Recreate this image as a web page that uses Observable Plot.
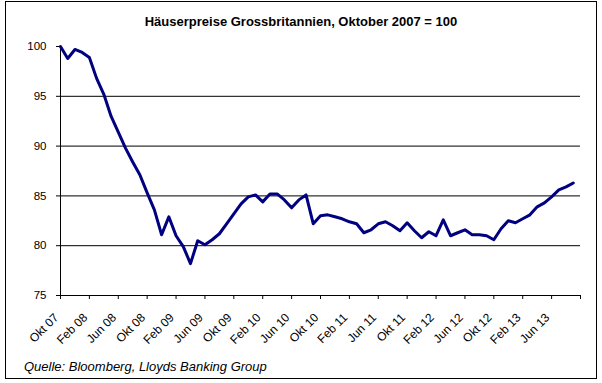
<!DOCTYPE html>
<html>
<head>
<meta charset="utf-8">
<script src="https://cdn.jsdelivr.net/npm/d3@7"></script>
<script src="https://cdn.jsdelivr.net/npm/@observablehq/plot@0.6"></script>
<style>
  body { margin: 0; background: #fff; }
  #wrap { position: relative; width: 602px; height: 383px; font-family: "Liberation Sans", Arial, sans-serif; color: #000; }
  #chart { position: absolute; left: 0; top: 0; }
  #frame { position: absolute; left: 5px; top: 1px; width: 590px; height: 376px; border: 1px solid #000; pointer-events: none; }
  #title { position: absolute; left: 0; width: 602px; top: 14px; text-align: center; font-weight: bold; font-size: 13px; }
  #caption { position: absolute; left: 24px; top: 359px; font-style: italic; font-size: 13px; }
</style>
</head>
<body>
<div id="wrap">
  <div id="chart"></div>
  <div id="title">Häuserpreise Grossbritannien, Oktober 2007 = 100</div>
  <div id="caption">Quelle: Bloomberg, Lloyds Banking Group</div>
  <div id="frame"></div>
</div>
<script>
// Monthly index values, Okt 07 ... Sep 13 (Oktober 2007 = 100)
const values = [
  100.0, 98.8, 99.7, 99.4, 98.9, 96.8, 95.2, 93.0, 91.4, 89.8, 88.4, 87.1,
  85.3, 83.6, 81.1, 82.9, 81.0, 79.9, 78.2, 80.5, 80.1, 80.6, 81.2, 82.2,
  83.2, 84.2, 84.9, 85.1, 84.4, 85.2, 85.2, 84.6, 83.8, 84.6, 85.1, 82.2,
  83.0, 83.1, 82.9, 82.7, 82.4, 82.2, 81.3, 81.6, 82.2, 82.4, 82.0, 81.5,
  82.3, 81.5, 80.8, 81.4, 81.0, 82.6, 81.0, 81.3, 81.6, 81.1, 81.1, 81.0,
  80.6, 81.7, 82.5, 82.3, 82.7, 83.1, 83.9, 84.3, 84.9, 85.6, 85.9, 86.3
];
const tickLabels = [
  "Okt 07", "Feb 08", "Jun 08", "Okt 08", "Feb 09", "Jun 09", "Okt 09",
  "Feb 10", "Jun 10", "Okt 10", "Feb 11", "Jun 11", "Okt 11", "Feb 12",
  "Jun 12", "Okt 12", "Feb 13", "Jun 13"
];
const yTicks = [75, 80, 85, 90, 95, 100];
const gridValues = [80, 85, 90, 95];

const data = values.map((v, i) => ({ i, v }));
const xTicks = d3.range(0, 73, 4);

const chart = Plot.plot({
  width: 602,
  height: 383,
  marginLeft: 60,
  marginRight: 22,
  marginTop: 46,
  marginBottom: 88,
  style: { fontFamily: "Liberation Sans, Arial, sans-serif", fontSize: "11px", color: "#000", background: "transparent" },
  x: { domain: [0, 72], label: null },
  y: { domain: [75, 100], label: null },
  marks: [
    Plot.ruleY(gridValues, { stroke: "#000", strokeWidth: 1 }),
    Plot.ruleY([75], { stroke: "#000", strokeWidth: 1 }),
    Plot.ruleX([0], { stroke: "#000", strokeWidth: 1 }),
    Plot.axisY({ ticks: yTicks, tickSize: 4, tickPadding: 10, label: null, fontSize: 11.5 }),
    Plot.axisX({
      ticks: xTicks,
      tickSize: 4,
      tickFormat: null,
      text: null,
      label: null
    }),
    Plot.axisX({
      ticks: xTicks,
      tickFormat: (d) => tickLabels[d / 4] ?? "",
      tickRotate: -45,
      tickSize: 0,
      tickPadding: 20,
      dx: -4,
      label: null,
      fontSize: 12
    }),
    Plot.line(data, { x: "i", y: "v", stroke: "#000080", strokeWidth: 3 })
  ]
});
document.getElementById("chart").appendChild(chart);
</script>
</body>
</html>
